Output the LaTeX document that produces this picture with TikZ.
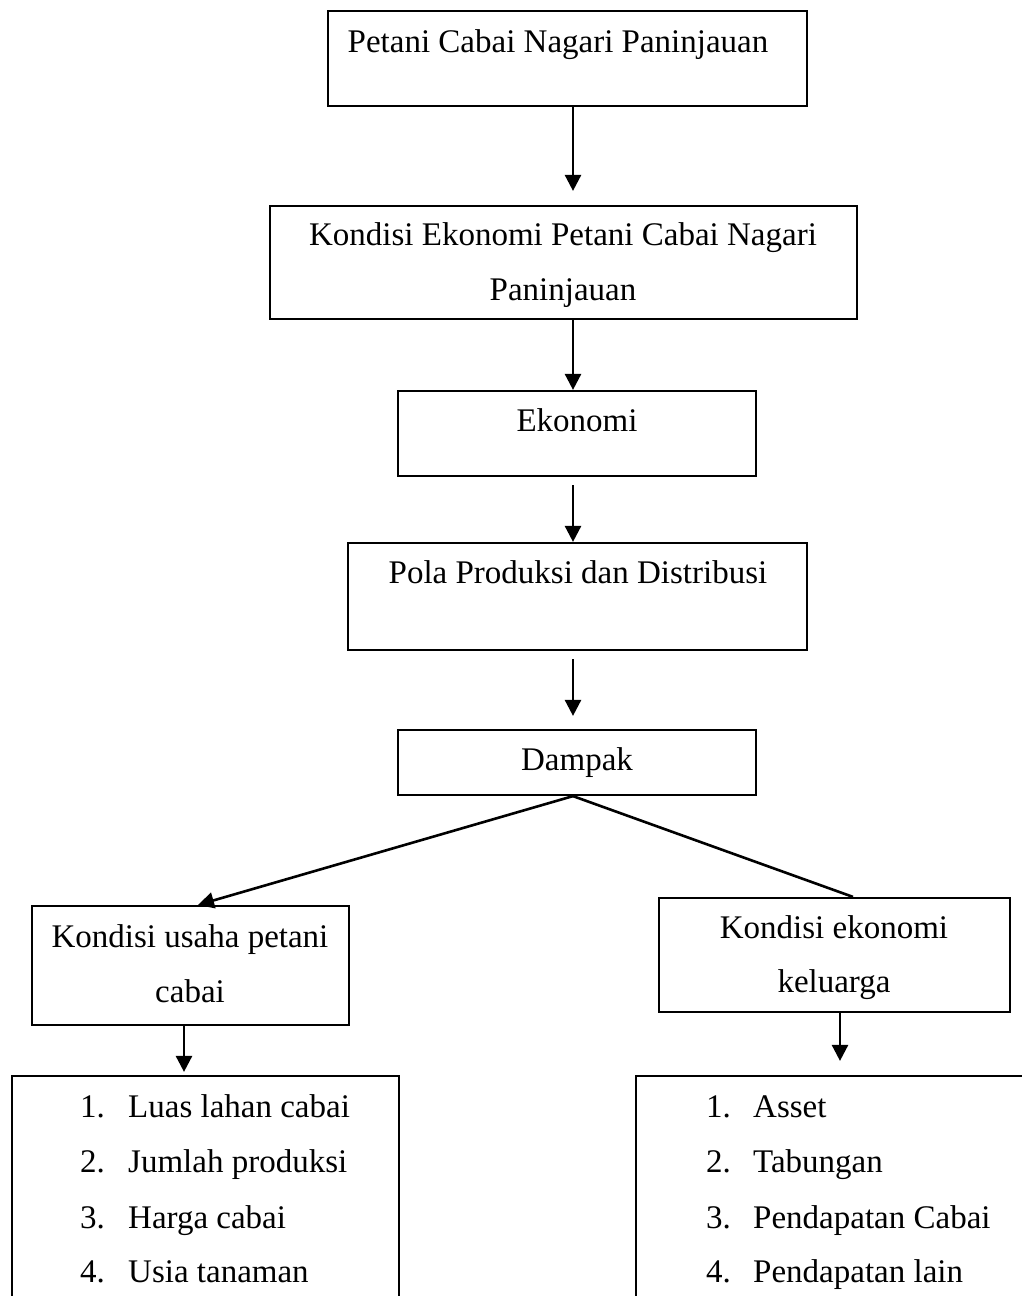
\documentclass[tikz,border=0pt]{standalone}
\usepackage{fontspec}
\setmainfont{Liberation Serif}
\usetikzlibrary{arrows.meta,calc}
\begin{document}
\begin{tikzpicture}[x=1pt,y=-1pt,
  box/.style={draw, line width=2.2pt, inner sep=0pt},
  txt/.style={anchor=base, inner sep=0pt, font=\fontsize{33}{55}\selectfont},
  lst/.style={anchor=base west, inner sep=0pt, font=\fontsize{33}{55}\selectfont},
  conn/.style={line width=2.6pt},
  arr/.style={conn, -{Triangle[width=16pt,length=16pt]}}]
\useasboundingbox (0,0) rectangle (1021,1296);
\fill[white] (0,0) rectangle (1021,1296);
\coordinate (axis) at (573,0);
% boxes
\node[box, minimum width=479pt, minimum height=95pt]  (b1) at (567.5,58.5) {};
\node[box, minimum width=587pt, minimum height=113pt] (b2) at (563.5,262.5) {};
\node[box, minimum width=358pt, minimum height=85pt]  (b3) at (577,433.5) {};
\node[box, minimum width=459pt, minimum height=107pt] (b4) at (577.5,596.5) {};
\node[box, minimum width=358pt, minimum height=65pt]  (b5) at (577,762.5) {};
\node[box, minimum width=317pt, minimum height=119pt] (b6) at (190.5,965.5) {};
\node[box, minimum width=351pt, minimum height=114pt] (b7) at (834.5,955) {};
\node[box, minimum width=387pt, minimum height=244pt] (b8) at (205.5,1198) {};
\node[box, minimum width=404pt, minimum height=244pt] (b9) at (838,1198) {};
% texts
\node[txt] (t1) at (558,52) {Petani Cabai Nagari Paninjauan};
\node[txt] (t2a) at (563,245) {Kondisi Ekonomi Petani Cabai Nagari};
\node[txt] (t2b) at (563,300) {Paninjauan};
\node[txt] (t3) at (577,431) {Ekonomi};
\node[txt] (t4) at (578,583) {Pola Produksi dan Distribusi};
\node[txt] (t5) at (577,770) {Dampak};
\node[txt] (t6a) at (190,947) {Kondisi usaha petani};
\node[txt] (t6b) at (190,1002) {cabai};
\node[txt] (t7a) at (834,938) {Kondisi ekonomi};
\node[txt] (t7b) at (834,992) {keluarga};
% left list
\node[lst] (l1n) at (80,1117) {1.};  \node[lst] (l1) at (128,1117) {Luas lahan cabai};
\node[lst] (l2n) at (80,1172) {2.};  \node[lst] (l2) at (128,1172) {Jumlah produksi};
\node[lst] (l3n) at (80,1228) {3.};  \node[lst] (l3) at (128,1228) {Harga cabai};
\node[lst] (l4n) at (80,1282) {4.};  \node[lst] (l4) at (128,1282) {Usia tanaman};
% right list
\node[lst] (r1n) at (706,1117) {1.};  \node[lst] (r1) at (753,1117) {Asset};
\node[lst] (r2n) at (706,1172) {2.};  \node[lst] (r2) at (753,1172) {Tabungan};
\node[lst] (r3n) at (706,1228) {3.};  \node[lst] (r3) at (753,1228) {Pendapatan Cabai};
\node[lst] (r4n) at (706,1282) {4.};  \node[lst] (r4) at (753,1282) {Pendapatan lain};
% connectors
\draw[arr] (b1.south -| axis) -- ($(b2.north -| axis)+(0,-14)$);
\draw[arr] (b2.south -| axis) -- (b3.north -| axis);
\draw[arr] ($(b3.south -| axis)+(0,8)$) -- (b4.north -| axis);
\draw[arr] ($(b4.south -| axis)+(0,8)$) -- ($(b5.north -| axis)+(0,-13)$);
\draw[arr] (b5.south -| axis) -- ($(b6.north)+(7.5,0)$);
\draw[conn] (b5.south -| axis) -- ($(b7.north)+(18.5,0)$);
\draw[arr] ($(b6.south)+(-6.5,0)$) -- ($(b8.north -| b6.south)+(-6.5,-3)$);
\draw[arr] ($(b7.south)+(5.5,0)$) -- ($(b9.north -| b7.south)+(5.5,-14)$);
\end{tikzpicture}
\end{document}
